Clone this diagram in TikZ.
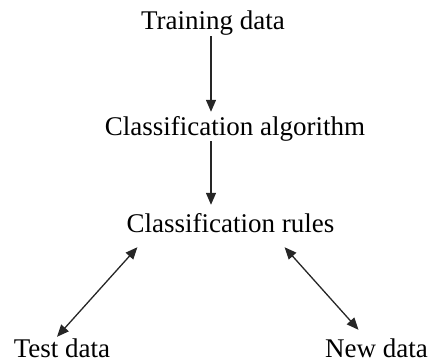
\documentclass[tikz,border=0pt]{standalone}
\usepackage{fontspec}
\setmainfont{Liberation Serif}
\usetikzlibrary{arrows.meta,calc}
\tikzstyle{txt}=[font=\fontsize{27}{30}\selectfont, inner sep=0pt, text height=19pt, text depth=6pt, anchor=base]
\tikzstyle{arr}=[draw=black!85, line width=1.3pt, -{Triangle[length=12pt,width=10pt]}]
\tikzstyle{darr}=[draw=black!85, line width=1.3pt, {Triangle[length=12pt,width=10pt]}-{Triangle[length=12pt,width=10pt]}]

\begin{document}
\begin{tikzpicture}[x=1pt,y=-1pt]
		\useasboundingbox (0,0) rectangle (432,364);
		% middle column
		\node[txt] (train) at (213,30) {Training data};
		\node[txt] (algo) at (235,135) {Classification algorithm};
		\node[txt] (rules) at (230.5,232) {Classification rules};
		% bottom
		\node[txt] (test) at (62,357) {Test data};
		\node[txt] (new) at (376.5,357) {New data};
		% connection
		\draw[arr, shorten >=4pt] ([xshift=-2pt]train.south) -- ([xshift=-2pt]train.south |- algo.north);
		\draw[arr, shorten >=8pt] ([xshift=-24pt]algo.south) -- ([xshift=-24pt]algo.south |- rules.north);
		\draw[darr] ([xshift=11pt,yshift=-9pt]rules.south west) -- ([xshift=-5pt,yshift=1pt]test.north);
		\draw[darr] ([xshift=-50pt,yshift=-9pt]rules.south east) -- ([xshift=-18pt,yshift=8pt]new.north);
	\end{tikzpicture}
\end{document}
